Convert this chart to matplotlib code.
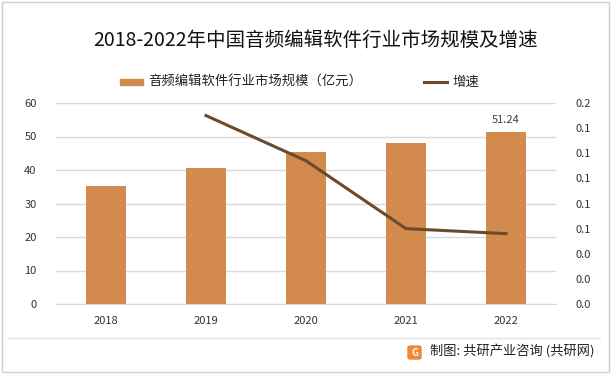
import matplotlib
matplotlib.use('Agg')
import matplotlib.pyplot as plt
from matplotlib.patches import Rectangle, FancyBboxPatch
from matplotlib.lines import Line2D
from matplotlib.ticker import FuncFormatter

years = ['2018', '2019', '2020', '2021', '2022']
market_size = [35.2, 40.6, 45.4, 48.1, 51.24]   # 亿元
growth = [None, 0.150, 0.114, 0.060, 0.056]

plt.rcParams['font.family'] = ['Noto Sans CJK SC', 'DejaVu Sans']

W, H = 614, 377
fig = plt.figure(figsize=(W / 100, H / 100), dpi=100)
fig.patch.set_facecolor('white')

# outer border and footer separator
fig.add_artist(Rectangle((2 / W, 5 / H), 607 / W, 370 / H, transform=fig.transFigure,
                         fill=False, edgecolor='#D0D0D0', linewidth=1))
fig.add_artist(Line2D([8 / W, 600 / W], [1 - 338 / H, 1 - 338 / H], transform=fig.transFigure,
                      color='#E3E3E3', linewidth=1))

ax = fig.add_axes([56 / W, 1 - 304 / H, 500 / W, 201 / H])
x = list(range(len(years)))
bar_color = '#D38B4D'
line_color = '#6B4A2E'

ax.bar(x, market_size, width=0.4, color=bar_color, zorder=3)
ax.set_xlim(-0.5, len(years) - 0.5)
ax.set_ylim(0, 60)
ax.set_yticks(range(0, 61, 10))
ax.set_xticks(x)
ax.set_xticklabels(years)
ax.grid(axis='y', color='#D9D9D9', linewidth=1, zorder=0)
for s in ['top', 'left', 'right']:
    ax.spines[s].set_visible(False)
ax.spines['bottom'].set_color('#D9D9D9')
ax.tick_params(axis='both', length=0, labelsize=8, colors='#333333')
ax.tick_params(axis='y', pad=14)
ax.tick_params(axis='x', pad=9)

# data label on last bar
ax.text(x[-1], market_size[-1] + 2.2, f'{market_size[-1]:.2f}', ha='center', va='bottom',
        fontsize=8, color='#404040')

ax2 = ax.twinx()
gx = [i for i, g in zip(x, growth) if g is not None]
gy = [g for g in growth if g is not None]
ax2.plot(gx, gy, color=line_color, linewidth=2.2, zorder=4)
ax2.set_ylim(0, 0.16)
ax2.set_yticks([i * 0.02 for i in range(9)])
ax2.yaxis.set_major_formatter(FuncFormatter(lambda v, p: f'{v:.1f}'))
for s in ['top', 'left', 'right', 'bottom']:
    ax2.spines[s].set_visible(False)
ax2.tick_params(axis='y', length=0, labelsize=8, colors='#333333', pad=14)

fig.text(316 / W, 1 - 40 / H, '2018-2022年中国音频编辑软件行业市场规模及增速',
         ha='center', va='center', fontsize=14, color='#111111')

# legend
fig.add_artist(Rectangle((120 / W, 1 - 85 / H), 23 / W, 6 / H, transform=fig.transFigure,
                         color=bar_color))
fig.text(148 / W, 1 - 82 / H, '音频编辑软件行业市场规模（亿元）', va='center', fontsize=9.6,
         color='#222222')
fig.add_artist(Line2D([424 / W, 447 / W], [1 - 82 / H, 1 - 82 / H], transform=fig.transFigure,
                      color=line_color, linewidth=2.2))
fig.text(452 / W, 1 - 82 / H, '增速', va='center', fontsize=9.6, color='#222222')

# footer
fig.add_artist(FancyBboxPatch((408 / W, 1 - 359 / H), 13 / W, 13 / H, transform=fig.transFigure,
                              boxstyle='round,pad=0,rounding_size=0.004', color='#F0883A'))
fig.text(414.5 / W, 1 - 352.5 / H, 'G', ha='center', va='center', fontsize=7, color='white',
         fontweight='bold')
fig.text(430 / W, 1 - 352 / H, '制图: 共研产业咨询 (共研网)', va='center', fontsize=9.5,
         color='#222222')

fig.savefig('out.png', dpi=100)
